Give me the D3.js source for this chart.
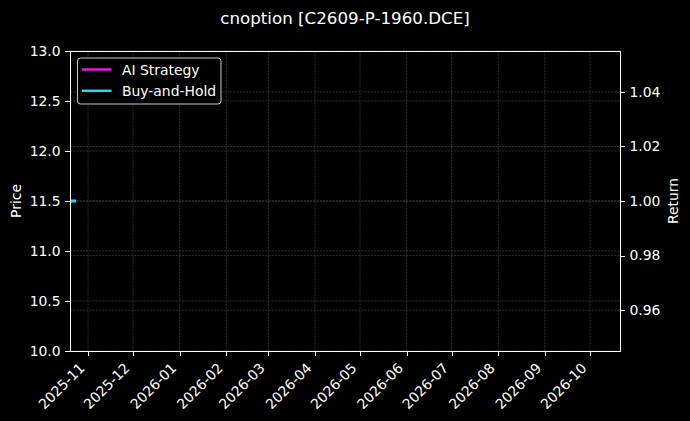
<!DOCTYPE html>
<html><head><meta charset="utf-8">
<script src="https://cdn.jsdelivr.net/npm/d3@7"></script>
<style>
html,body{margin:0;padding:0;background:#000;}
svg{display:block;font-family:"DejaVu Sans",sans-serif;}
</style></head>
<body>
<svg id="chart" width="690" height="421"></svg>
<script>
const titleText = "cnoption [C2609-P-1960.DCE]";
const dates = ["2025-10-20","2025-10-21","2025-10-22","2025-10-23","2025-10-24"];
const aiStrategy = [1.0, 1.0, 1.0, 1.0, 1.0];
const buyAndHold = [1.0, 1.0, 1.0, 1.0, 1.0];
const seriesNames = ["AI Strategy", "Buy-and-Hold"];
const seriesColors = ["#dd1fdd", "#1fe0e0"];
const xDomain = ["2025-10-20", "2026-10-21"];
const priceDomain = [10.0, 13.0];
const priceTicks = [10.0, 10.5, 11.0, 11.5, 12.0, 12.5, 13.0];
const returnDomain = [0.945, 1.055];
const returnTicks = [0.96, 0.98, 1.00, 1.02, 1.04];

const parse = d3.utcParse("%Y-%m-%d");
const svg = d3.select("#chart");
const L = 70, R = 620, T = 51, B = 351;
const fs = 13.9;

const x = d3.scaleUtc().domain(xDomain.map(parse)).range([L, R]);
const yP = d3.scaleLinear().domain(priceDomain).range([B, T]);
const yR = d3.scaleLinear().domain(returnDomain).range([B, T]);

svg.append("rect").attr("width", 690).attr("height", 421).attr("fill", "#000");

const monthTicks = d3.utcMonth.range(d3.utcMonth.ceil(x.domain()[0]), x.domain()[1]);

// grid
const grid = svg.append("g").attr("stroke", "#4a4a4a").attr("stroke-width", 0.6)
  .attr("stroke-dasharray", "2.2,1").attr("fill", "none");
monthTicks.forEach(d => grid.append("line").attr("x1", x(d)).attr("x2", x(d)).attr("y1", T).attr("y2", B));
priceTicks.forEach(v => grid.append("line").attr("x1", L).attr("x2", R).attr("y1", yP(v)).attr("y2", yP(v)));
returnTicks.forEach(v => grid.append("line").attr("x1", L).attr("x2", R).attr("y1", yR(v)).attr("y2", yR(v)));

// lines
const data = [aiStrategy, buyAndHold];
const line = d3.line().x((d, i) => x(parse(dates[i]))).y(d => yR(d));
data.forEach((s, k) => {
  svg.append("path").datum(s).attr("d", line).attr("fill", "none")
    .attr("stroke", seriesColors[k]).attr("stroke-width", 2.8);
});

// axes
const axL = svg.append("g").attr("transform", `translate(${L},0)`)
  .call(d3.axisLeft(yP).tickValues(priceTicks).tickFormat(d3.format(".1f")).tickSize(4.9).tickPadding(4.5));
const axR = svg.append("g").attr("transform", `translate(${R},0)`)
  .call(d3.axisRight(yR).tickValues(returnTicks).tickFormat(d3.format(".2f")).tickSize(4.9).tickPadding(4.5));
const axB = svg.append("g").attr("transform", `translate(0,${B})`)
  .call(d3.axisBottom(x).tickValues(monthTicks).tickFormat(d3.utcFormat("%Y-%m")).tickSize(4.9));
[axL, axR, axB].forEach(a => {
  a.select(".domain").remove();
  a.selectAll("line").attr("stroke", "#fff").attr("stroke-width", 1).attr("shape-rendering", "crispEdges");
  a.selectAll("text").attr("fill", "#fff").style("font-size", fs + "px").style("font-family", "DejaVu Sans");
});
axB.selectAll("text")
  .attr("text-anchor", "end")
  .attr("dy", null)
  .attr("y", 0)
  .attr("transform", "translate(-3,18) rotate(-45)");

// spines
svg.append("rect").attr("x", L).attr("y", T).attr("width", R - L).attr("height", B - T)
  .attr("fill", "none").attr("stroke", "#fff").attr("stroke-width", 1).attr("shape-rendering", "crispEdges");

// axis labels
svg.append("text").attr("transform", `translate(21,${(T + B) / 2}) rotate(-90)`)
  .attr("text-anchor", "middle").attr("fill", "#fff").style("font-size", fs + "px").text("Price");
svg.append("text").attr("transform", `translate(678,${(T + B) / 2}) rotate(-90)`)
  .attr("text-anchor", "middle").attr("fill", "#fff").style("font-size", fs + "px").text("Return");

// title
svg.append("text").attr("x", 345).attr("y", 24).attr("text-anchor", "middle")
  .attr("fill", "#fff").style("font-size", "16.7px").text(titleText);

// legend
const lg = svg.append("g");
lg.append("rect").attr("x", 77.5).attr("y", 58).attr("width", 143.5).attr("height", 46)
  .attr("rx", 3).attr("fill", "#000").attr("fill-opacity", 0.8).attr("stroke", "#cccccc").attr("stroke-width", 1);
seriesNames.forEach((n, k) => {
  const yy = 69.5 + k * 21.3;
  lg.append("line").attr("x1", 82).attr("x2", 111.5).attr("y1", yy).attr("y2", yy)
    .attr("stroke", seriesColors[k]).attr("stroke-width", 2.5);
  lg.append("text").attr("x", 122).attr("y", yy + 5).attr("fill", "#fff")
    .style("font-size", fs + "px").text(n);
});
</script>
</body></html>
